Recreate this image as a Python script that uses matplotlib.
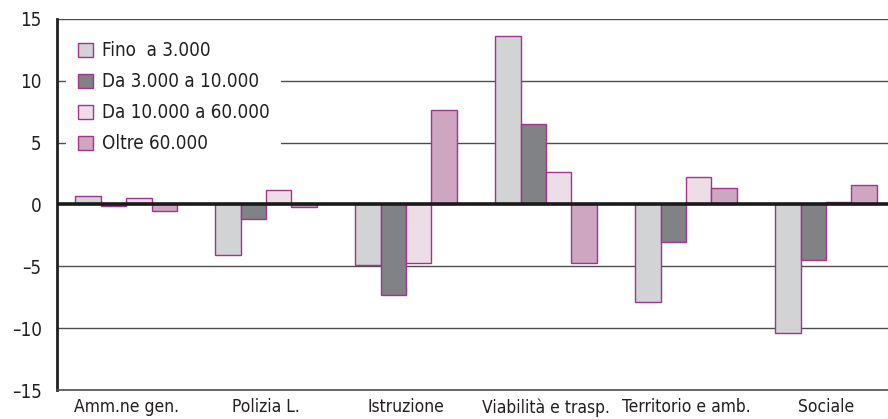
import numpy as np
import matplotlib.pyplot as plt
from matplotlib.patches import Patch

plt.rcParams['font.family'] = ['DejaVu Sans']
plt.rcParams['font.stretch'] = 'condensed'

categories = ["Amm.ne gen.", "Polizia L.", "Istruzione",
              "Viabilità e trasp.", "Territorio e amb.", "Sociale"]
series_names = ["Fino  a 3.000", "Da 3.000 a 10.000",
                "Da 10.000 a 60.000", "Oltre 60.000"]
fino_3k = [0.7, -4.1, -4.9, 13.6, -7.9, -10.4]
da_3k_10k = [-0.1, -1.2, -7.3, 6.5, -3.0, -4.5]
da_10k_60k = [0.5, 1.2, -4.7, 2.6, 2.2, 0.2]
oltre_60k = [-0.5, -0.2, 7.6, -4.7, 1.3, 1.6]

colors = ["#d1d3d4", "#808285", "#ecdde6", "#cfa6c1"]
edge = "#a3348c"

fig = plt.figure(figsize=(8.88, 4.19), dpi=100)
ax = fig.add_axes([0.0642, 0.069, 0.9358, 0.886])

x = np.arange(len(categories))
width = 0.182
offsets = (np.arange(4) - 1.5) * width
for vals, off, c in zip([fino_3k, da_3k_10k, da_10k_60k, oltre_60k], offsets, colors):
    ax.bar(x + off, vals, width=width, color=c, edgecolor=edge, linewidth=1.0, zorder=3)

ax.set_xlim(-0.493, 5.443)
ax.set_ylim(-15, 15)
ax.set_yticks([-15, -10, -5, 0, 5, 10, 15])
ax.set_yticklabels(["\u201315", "\u201310", "\u20135", "0", "5", "10", "15"])
for v in [-10, -5, 5, 10, 15]:
    ax.axhline(v, color="#4d4d4d", linewidth=1.0, zorder=1)
ax.axhline(0, color="#1a1a1a", linewidth=2.6, zorder=4)

ax.set_xticks(x)
ax.set_xticklabels(categories)
ax.tick_params(axis="both", length=0, labelsize=13.5, colors="#231f20")
ax.tick_params(axis="x", labelsize=12.5, pad=6)
ax.tick_params(axis="y", pad=11)

for s in ["top", "right"]:
    ax.spines[s].set_visible(False)
ax.spines["left"].set_linewidth(2.0)
ax.spines["left"].set_color("#231f20")
ax.spines["bottom"].set_linewidth(1.2)
ax.spines["bottom"].set_color("#4d4d4d")

handles = [Patch(facecolor=c, edgecolor=edge, linewidth=1.0) for c in colors]
leg = ax.legend(handles, series_names, loc="upper left", bbox_to_anchor=(0.0, 0.995),
                frameon=True, fancybox=False, facecolor="white", edgecolor="none",
                framealpha=1, fontsize=13.5, handlelength=0.8, handleheight=0.8,
                handletextpad=0.5, labelspacing=0.64, borderpad=0.6)
leg.set_zorder(5)
for t in leg.get_texts():
    t.set_color("#231f20")

fig.savefig("out.png", dpi=100)
